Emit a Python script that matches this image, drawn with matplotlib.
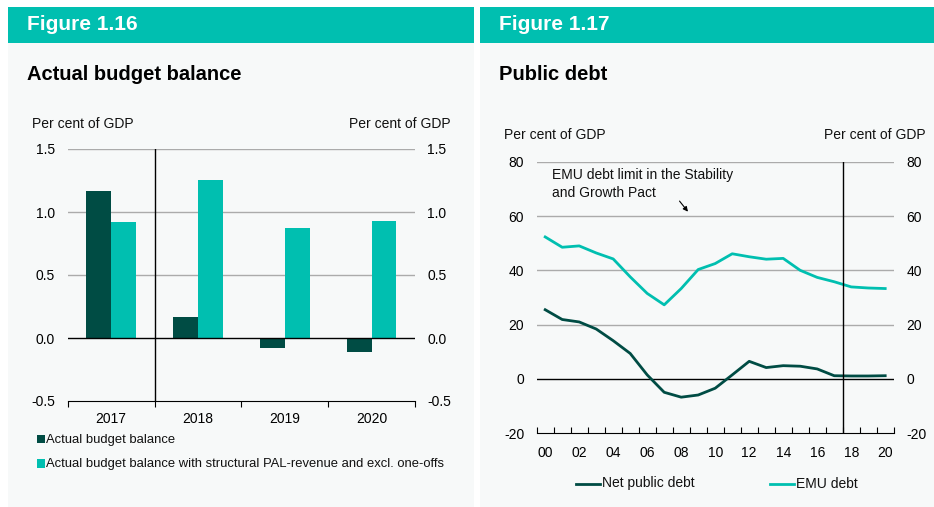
import matplotlib
matplotlib.use("Agg")
import matplotlib.pyplot as plt
from matplotlib.patches import Rectangle
from matplotlib.lines import Line2D

plt.rcParams['font.family'] = ['Liberation Sans', 'DejaVu Sans']

# ---------------- data ----------------
bar_years = ['2017', '2018', '2019', '2020']
actual_balance = [1.17, 0.17, -0.08, -0.11]
adjusted_balance = [0.92, 1.25, 0.87, 0.93]
bar_yticks = [-0.5, 0.0, 0.5, 1.0, 1.5]
bar_yticklabels = ['-0.5', '0.0', '0.5', '1.0', '1.5']

debt_years = list(range(2000, 2021))
net_public_debt = [25.5, 21.9, 21.0, 18.4, 14.1, 9.4, 1.5, -4.9, -6.7, -5.9, -3.4,
                   1.5, 6.5, 4.2, 4.9, 4.7, 3.7, 1.2, 1.1, 1.1, 1.2]
emu_debt = [52.3, 48.5, 49.0, 46.4, 44.2, 37.6, 31.5, 27.3, 33.3, 40.3, 42.5,
            46.1, 45.0, 44.1, 44.4, 40.0, 37.4, 35.8, 33.9, 33.5, 33.3]
debt_yticks = [-20, 0, 20, 40, 60, 80]
debt_xticklabels = ['00', '02', '04', '06', '08', '10', '12', '14', '16', '18', '20']

DARK = '#004C44'
TEAL = '#00BFB0'
PANEL = '#F7F9F9'
GRID = '#ABABAB'

W, H = 934, 507
fig = plt.figure(figsize=(W / 100, H / 100), dpi=100)
fig.patch.set_facecolor('white')


def fx(x):
    return x / W


def fy(y):
    return 1 - y / H


def rect(x0, y0, x1, y1, color, z=-5):
    fig.patches.append(Rectangle((fx(x0), fy(y1)), fx(x1) - fx(x0), fy(y0) - fy(y1),
                                 transform=fig.transFigure, facecolor=color,
                                 edgecolor='none', zorder=z))


def axes_px(x0, y0, x1, y1):
    a = fig.add_axes([fx(x0), fy(y1), fx(x1) - fx(x0), fy(y0) - fy(y1)])
    a.set_zorder(2)
    return a


# panels and headers
rect(8, 43, 474, 507, PANEL)
rect(480, 43, 934, 507, PANEL)
rect(8, 7, 474, 43, TEAL)
rect(480, 7, 934, 43, TEAL)

fig.text(fx(27), fy(25), 'Figure 1.16', color='white', fontsize=15, fontweight='bold', va='center', ha='left')
fig.text(fx(499), fy(25), 'Figure 1.17', color='white', fontsize=15, fontweight='bold', va='center', ha='left')
fig.text(fx(27), fy(74), 'Actual budget balance', color='black', fontsize=14.5, fontweight='bold', va='center', ha='left')
fig.text(fx(499), fy(74), 'Public debt', color='black', fontsize=14.5, fontweight='bold', va='center', ha='left')

fig.text(fx(32), fy(124), 'Per cent of GDP', fontsize=10, va='center', ha='left', color='#111111')
fig.text(fx(451), fy(124), 'Per cent of GDP', fontsize=10, va='center', ha='right', color='#111111')
fig.text(fx(504), fy(135), 'Per cent of GDP', fontsize=10, va='center', ha='left', color='#111111')
fig.text(fx(926), fy(135), 'Per cent of GDP', fontsize=10, va='center', ha='right', color='#111111')

# ---------------- left chart ----------------
ax1 = axes_px(67.7, 149, 415, 401)
ax1.patch.set_alpha(0)
xpos = list(range(len(bar_years)))
bw = 0.285
ax1.bar([p - bw / 2 for p in xpos], actual_balance, width=bw, color=DARK, zorder=3)
ax1.bar([p + bw / 2 for p in xpos], adjusted_balance, width=bw, color=TEAL, zorder=3)
ax1.set_xlim(-0.5, 3.5)
ax1.set_ylim(-0.5, 1.5)
for v in [0.5, 1.0, 1.5]:
    ax1.axhline(v, color=GRID, lw=1, zorder=1)
ax1.axhline(0, color='black', lw=1, zorder=4)
ax1.axvline(0.5, color='black', lw=1, zorder=4)
for s in ['top', 'left', 'right']:
    ax1.spines[s].set_visible(False)
ax1.spines['bottom'].set_color('black')
ax1.set_yticks(bar_yticks)
ax1.set_yticklabels(bar_yticklabels)
ax1.tick_params(axis='y', length=0, labelleft=True, labelright=True, pad=9, labelsize=10)
ax1.set_xticks([-0.5, 0.5, 1.5, 2.5, 3.5])
ax1.set_xticklabels([])
ax1.tick_params(axis='x', which='major', direction='out', length=4, color='black')
ax1.set_xticks(xpos, minor=True)
ax1.set_xticklabels(bar_years, minor=True)
ax1.tick_params(axis='x', which='minor', length=0, pad=8, labelsize=10)

# legend left
rect(36.5, 435, 44.5, 443, DARK, z=1)
fig.text(fx(46.5), fy(439.5), 'Actual budget balance', fontsize=9.4, va='center', ha='left', color='#111111')
rect(36.5, 459.5, 44.5, 467.5, TEAL, z=1)
fig.text(fx(46.5), fy(464), 'Actual budget balance with structural PAL-revenue and excl. one-offs',
         fontsize=9.4, va='center', ha='left', color='#111111')

# ---------------- right chart ----------------
ax2 = axes_px(536.7, 161.7, 893.7, 433.3)
ax2.patch.set_alpha(0)
xi = list(range(len(debt_years)))
ax2.plot(xi, net_public_debt, color=DARK, lw=2, zorder=3)
ax2.plot(xi, emu_debt, color=TEAL, lw=2, zorder=3)
ax2.set_xlim(-0.5, 20.5)
ax2.set_ylim(-20, 80)
for v in [20, 40, 60, 80]:
    ax2.axhline(v, color=GRID, lw=1, zorder=1)
ax2.axhline(0, color='black', lw=1, zorder=2)
ax2.plot([17.5, 17.5], [-20, 80], color='black', lw=1, zorder=4)
for s in ['top', 'left', 'right']:
    ax2.spines[s].set_visible(False)
ax2.set_yticks(debt_yticks)
ax2.set_yticklabels([str(v) for v in debt_yticks])
ax2.tick_params(axis='y', length=0, labelleft=True, labelright=True, pad=9, labelsize=10)
ax2.set_xticks([i - 0.5 for i in range(22)])
ax2.set_xticklabels([])
ax2.tick_params(axis='x', which='major', direction='in', length=4, color='black')
ax2.set_xticks(list(range(0, 21, 2)), minor=True)
ax2.set_xticklabels(debt_xticklabels, minor=True)
ax2.tick_params(axis='x', which='minor', length=0, pad=9, labelsize=10)

ax2.text(0.4, 71.8, 'EMU debt limit in the Stability\nand Growth Pact', fontsize=10,
         va='center', ha='left', color='#111111', linespacing=1.3)
ax2.annotate('', xy=(8.5, 60.8), xytext=(7.8, 66.3),
             arrowprops=dict(arrowstyle='-|>', color='black', lw=0.8, mutation_scale=7))

# legend right
fig.lines.append(Line2D([fx(576), fx(600)], [fy(483.5), fy(483.5)], transform=fig.transFigure,
                        color=DARK, lw=2))
fig.text(fx(602), fy(483.5), 'Net public debt', fontsize=10, va='center', ha='left', color='#111111')
fig.lines.append(Line2D([fx(770), fx(794)], [fy(483.5), fy(483.5)], transform=fig.transFigure,
                        color=TEAL, lw=2))
fig.text(fx(796), fy(483.5), 'EMU debt', fontsize=10, va='center', ha='left', color='#111111')

fig.savefig('out.png', dpi=100, facecolor='white')
